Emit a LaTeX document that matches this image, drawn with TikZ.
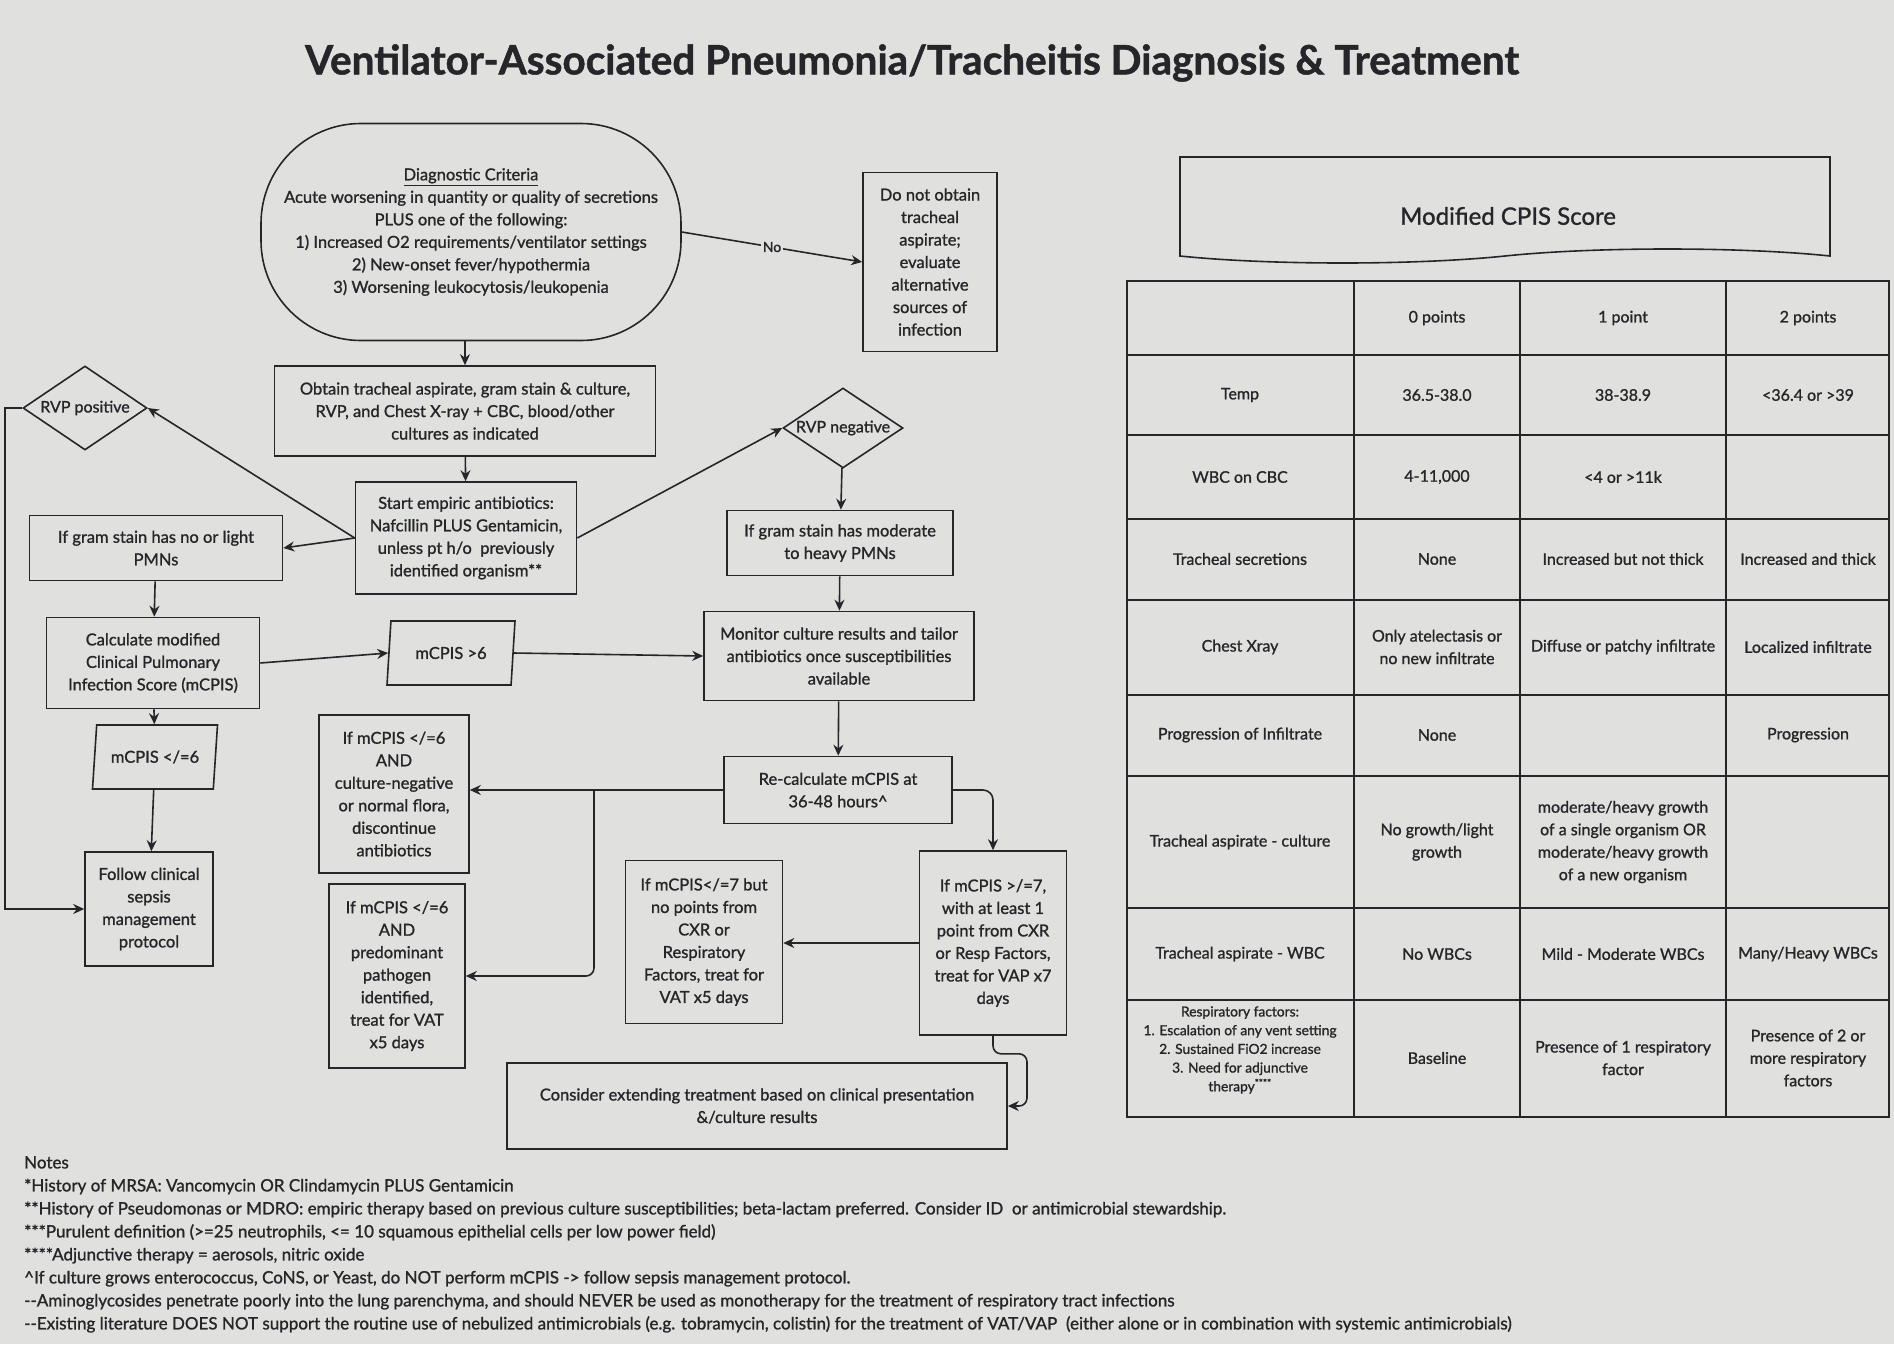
\documentclass[tikz,border=0pt]{standalone}
\usepackage{fontspec}
\setmainfont{Lato}[FakeBold=1.2]
\usepackage{tikz}
\usetikzlibrary{shapes.geometric,shapes.symbols,arrows.meta,positioning,calc}
\definecolor{photobg}{RGB}{224,225,222}
\definecolor{ink}{RGB}{38,38,42}

\begin{document}
\begin{tikzpicture}[
    x=1pt, y=-1pt,
    every node/.style={text=ink},
    box/.style={rectangle, draw=ink, line width=1.6pt, align=center, inner sep=2pt,
                font=\fontsize{16.5}{22.5}\selectfont},
    crit/.style={box, rounded corners=100pt},
    decision/.style={diamond, aspect=1.55, draw=ink, line width=1.6pt, inner sep=-2pt,
                     font=\fontsize{16}{22.5}\selectfont},
    slantbox/.style={trapezium, trapezium left angle=72, trapezium right angle=108,
                     trapezium stretches body, draw=ink, line width=1.6pt, inner sep=0pt,
                     minimum width=128pt, minimum height=64pt, font=\fontsize{16.5}{22.5}\selectfont},
    arrow/.style={-{Stealth[length=11pt, width=10pt]}, line width=1.6pt, draw=ink},
    yesno/.style={fill=photobg, inner sep=2pt, font=\fontsize{14}{16}\selectfont},
    gridline/.style={draw=ink, line width=1.6pt},
    cell/.style={align=center, inner sep=0pt, font=\fontsize{16}{22.5}\selectfont},
    smallcell/.style={cell, font=\fontsize{13.8}{18.7}\selectfont},
    notes/.style={align=left, inner sep=0pt, font=\fontsize{17}{23}\selectfont}
]
\useasboundingbox (0,0) rectangle (1894,1344);
\fill[photobg] (0,0) rectangle (1894,1344);

% Title
\node[font=\fontsize{40.5}{44}\selectfont\bfseries] (title) at (912,63)
    {Ventilator-Associated Pneumonia/Tracheitis Diagnosis \& Treatment};

% Entry -- diagnostic criteria
\node[crit, minimum width=420pt, minimum height=217pt] (criteria) at (471,232)
    {\underline{Diagnostic Criteria}\\ Acute worsening in quantity or quality of secretions\\
     PLUS one of the following:\\ 1) Increased O2 requirements/ventilator settings\\
     2) New-onset fever/hypothermia\\ 3) Worsening leukocytosis/leukopenia};
\node[box, minimum width=134pt, minimum height=179pt] (noaspirate) at (930,262)
    {Do not obtain\\ tracheal\\ aspirate;\\ evaluate\\ alternative\\ sources of\\ infection};
\node[box, minimum width=381pt, minimum height=90pt] (obtain) at (465,411)
    {Obtain tracheal aspirate, gram stain \& culture,\\ RVP, and Chest X-ray + CBC, blood/other\\ cultures as indicated};
\node[box, minimum width=221pt, minimum height=112pt] (empiric) at (466,538)
    {Start empiric antibiotics:\\ Nafcillin PLUS Gentamicin,\\ unless pt h/o\ \ previously\\ identified organism**};

% RVP branches
\node[decision, minimum width=124pt, minimum height=84pt] (rvppos) at (85,408) {RVP positive};
\node[decision, minimum width=120pt, minimum height=80pt] (rvpneg) at (843,428) {RVP negative};
\node[box, minimum width=253pt, minimum height=65pt] (lightpmn) at (156,548)
    {If gram stain has no or light\\ PMNs};
\node[box, minimum width=226pt, minimum height=65pt] (heavypmn) at (840,543)
    {If gram stain has moderate\\ to heavy PMNs};

% Scoring
\node[box, minimum width=213pt, minimum height=91pt] (calc) at (153,663)
    {Calculate modified\\ Clinical Pulmonary\\ Infection Score (mCPIS)};
\node[slantbox] (highscore) at (451,653) {mCPIS >6};
\node[slantbox, minimum width=125pt] (lowscore) at (155,757) {mCPIS </=6};
\node[box, minimum width=128pt, minimum height=114pt] (sepsis) at (149,909)
    {Follow clinical\\ sepsis\\ management\\ protocol};
\node[box, minimum width=270pt, minimum height=89pt] (monitor) at (839,656)
    {Monitor culture results and tailor\\ antibiotics once susceptibilities\\ available};
\node[box, minimum width=228pt, minimum height=67pt] (recalc) at (838,790)
    {Re-calculate mCPIS at\\ 36-48 hours\textasciicircum};

% Outcomes
\node[box, minimum width=150pt, minimum height=158pt] (stopabx) at (394,794)
    {If mCPIS </=6\\ AND\\ culture-negative\\ or normal flora,\\ discontinue\\ antibiotics};
\node[box, minimum width=136pt, minimum height=184pt] (vatpath) at (397,976)
    {If mCPIS </=6\\ AND\\ predominant\\ pathogen\\ identified,\\ treat for VAT\\ x5 days};
\node[box, minimum width=157pt, minimum height=163pt] (vatresp) at (704,942)
    {If mCPIS</=7 but\\ no points from\\ CXR or\\ Respiratory\\ Factors, treat for\\ VAT x5 days};
\node[box, minimum width=147pt, minimum height=184pt] (vap) at (993,943)
    {If mCPIS >/=7,\\ with at least 1\\ point from CXR\\ or Resp Factors,\\ treat for VAP x7\\ days};
\node[box, minimum width=500pt, minimum height=86pt] (extend) at (757,1106)
    {Consider extending treatment based on clinical presentation\\ \&/culture results};

% Connectors
\draw[arrow] (obtain.north |- criteria.south) -- (obtain.north);
\draw[arrow] (obtain) -- (empiric);
\draw[arrow] (criteria.east) -- node[yesno, midway] (nolabel) {No} (noaspirate.west);
\draw[arrow] (empiric.west) -- (rvppos.east);
\draw[arrow] (empiric.west) -- (lightpmn.east);
\draw[arrow] (empiric.east) -- (rvpneg.west);
\draw[arrow] (rvpneg) -- (heavypmn);
\draw[arrow] (heavypmn) -- (monitor);
\draw[arrow] (lightpmn) -- (calc);
\draw[arrow] (calc.east) -- (highscore.west);
\draw[arrow] (highscore.east) -- (monitor.west);
\draw[arrow] (calc) -- (lowscore);
\draw[arrow] (lowscore) -- (sepsis);
\draw[arrow] (monitor) -- (recalc);

\coordinate (leftrail) at (5,408);
\draw[arrow] (rvppos.west) -- (leftrail) |- (sepsis.west);

\coordinate (split) at (594,790);
\draw[arrow] (recalc.west) -- (recalc.west -| stopabx.east);
\draw[arrow, rounded corners=8pt] (split) |- (vatpath.east);
\draw[arrow, rounded corners=10pt] (recalc.east) -| (vap.north);
\draw[arrow] (vap.west) -- (vap.west -| vatresp.east);
\draw[arrow, rounded corners=8pt] (vap.south) -- ++(0,18) -- ++(34,0) |- (extend.east);

% Modified CPIS table
\node[tape, draw=ink, line width=1.6pt, tape bend top=none, tape bend bottom=in and out,
      tape bend height=14pt, minimum width=650pt, minimum height=106pt] (cpisbanner) at (1505,203) {};
\node[font=\fontsize{24}{26}\selectfont] (cpistitle) at (1508,216) {Modified CPIS Score};

\draw[gridline] (1127,281) rectangle (1889,1117);
\foreach \x in {1354,1520,1726}
    \draw[gridline] (\x,281) -- (\x,1117);
\foreach \y in {355,435,519,600,695,776,908,1000}
    \draw[gridline] (1127,\y) -- (1889,\y);

% header row
\node[cell] (pts0) at (1437,318) {0 points};
\node[cell] (pts1) at (1623,318) {1 point};
\node[cell] (pts2) at (1808,318) {2 points};
% temp
\node[cell] (temp)  at (1240,395) {Temp};
\node[cell] (temp0) at (1437,395) {36.5-38.0};
\node[cell] (temp1) at (1623,395) {38-38.9};
\node[cell] (temp2) at (1808,395) {<36.4 or >39};
% wbc
\node[cell] (wbc)  at (1240,477) {WBC on CBC};
\node[cell] (wbc0) at (1437,477) {4-11,000};
\node[cell] (wbc1) at (1623,477) {<4 or >11k};
% secretions
\node[cell] (sec)  at (1240,559) {Tracheal secretions};
\node[cell] (sec0) at (1437,559) {None};
\node[cell] (sec1) at (1623,559) {Increased but not thick};
\node[cell] (sec2) at (1808,559) {Increased and thick};
% chest x-ray
\node[cell] (cxr)  at (1240,647) {Chest Xray};
\node[cell] (cxr0) at (1437,647) {Only atelectasis or\\ no new infiltrate};
\node[cell] (cxr1) at (1623,647) {Diffuse or patchy infiltrate};
\node[cell] (cxr2) at (1808,647) {Localized infiltrate};
% progression
\node[cell] (prog)  at (1240,735) {Progression of Infiltrate};
\node[cell] (prog0) at (1437,735) {None};
\node[cell] (prog2) at (1808,735) {Progression};
% aspirate culture
\node[cell] (cult)  at (1240,842) {Tracheal aspirate - culture};
\node[cell] (cult0) at (1437,842) {No growth/light\\ growth};
\node[cell] (cult1) at (1623,842) {moderate/heavy growth\\ of a single organism OR\\ moderate/heavy growth\\ of a new organism};
% aspirate wbc
\node[cell] (aspw)  at (1240,954) {Tracheal aspirate - WBC};
\node[cell] (aspw0) at (1437,954) {No WBCs};
\node[cell] (aspw1) at (1623,954) {Mild - Moderate WBCs};
\node[cell] (aspw2) at (1808,954) {Many/Heavy WBCs};
% respiratory factors
\node[smallcell] (resp)  at (1240,1050) {Respiratory factors:\\ 1. Escalation of any vent setting\\ 2. Sustained FiO2 increase\\ 3. Need for adjunctive\\ therapy\textsuperscript{****}};
\node[cell] (resp0) at (1437,1058) {Baseline};
\node[cell] (resp1) at (1623,1058) {Presence of 1 respiratory\\ factor};
\node[cell] (resp2) at (1808,1058) {Presence of 2 or\\ more respiratory\\ factors};

% Notes
\node[notes, anchor=north west] (notes) at (24,1156)
    {Notes\\
     {}*History of MRSA: Vancomycin OR Clindamycin PLUS Gentamicin\\
     {}**History of Pseudomonas or MDRO: empiric therapy based on previous culture susceptibilities; beta-lactam preferred. Consider ID\ \ or antimicrobial stewardship.\\
     {}***Purulent definition (>=25 neutrophils, <= 10 squamous epithelial cells per low power field)\\
     {}****Adjunctive therapy = aerosols, nitric oxide\\
     \textasciicircum If culture grows enterococcus, CoNS, or Yeast, do NOT perform mCPIS -> follow sepsis management protocol.\\
     -{}-Aminoglycosides penetrate poorly into the lung parenchyma, and should NEVER be used as monotherapy for the treatment of respiratory tract infections\\
     -{}-Existing literature DOES NOT support the routine use of nebulized antimicrobials (e.g. tobramycin, colistin) for the treatment of VAT/VAP\ \ (either alone or in combination with systemic antimicrobials)};

\end{tikzpicture}
\end{document}
